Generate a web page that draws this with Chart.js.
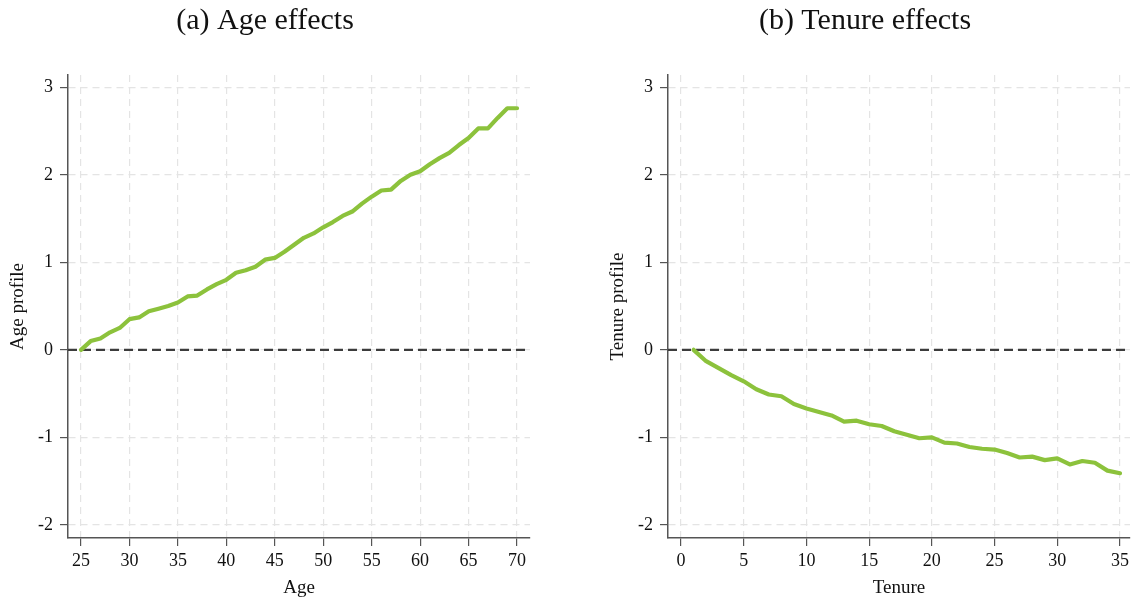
<!DOCTYPE html>
<html>
<head>
<meta charset="utf-8">
<script src="https://cdn.jsdelivr.net/npm/chart.js@4.4.1/dist/chart.umd.min.js"></script>
<style>
  html, body { margin: 0; padding: 0; background: #fff; }
  body { width: 1134px; height: 601px; position: relative; overflow: hidden; }
  .panel { position: absolute; top: 0; }
</style>
</head>
<body>
<div class="panel" style="left:0px;"><canvas id="chart-age" width="535" height="601"></canvas></div>
<div class="panel" style="left:600px;"><canvas id="chart-tenure" width="534" height="601"></canvas></div>
<script>
// valores
const idades = [25,26,27,28,29,30,31,32,33,34,35,36,37,38,39,40,41,42,43,44,45,46,47,48,49,50,
    51,52,53,54,55,56,57,58,59,60,61,62,63,64,65,66,67,68,69,70];
const perfilIdade = [0.00,0.10,0.13,0.20,0.25,0.35,0.37,0.44,0.47,0.50,0.54,0.61,0.62,0.69,0.75,0.80,
    0.88,0.91,0.95,1.03,1.05,1.12,1.20,1.28,1.33,1.40,1.46,1.53,1.58,1.67,1.75,1.82,1.83,1.93,2.00,2.04,
    2.12,2.19,2.25,2.34,2.42,2.53,2.53,2.65,2.76,2.76];

const anosEmpresa = [1,2,3,4,5,6,7,8,9,10,11,12,13,14,15,16,17,18,19,20,21,22,23,24,25,26,27,28,29,30,31,32,33,34,35];
const perfilTenure = [0.00,-0.13,-0.21,-0.29,-0.36,-0.45,-0.51,-0.53,-0.62,-0.67,-0.71,-0.75,-0.82,-0.81,
    -0.85,-0.87,-0.93,-0.97,-1.01,-1.00,-1.06,-1.07,-1.11,-1.13,-1.14,-1.18,-1.23,-1.22,-1.26,-1.24,
    -1.31,-1.27,-1.29,-1.38,-1.41];

const ticksY = [-2, -1, 0, 1, 2, 3];
const ticksIdade = [25,30,35,40,45,50,55,60,65,70];
const ticksTenure = [0,5,10,15,20,25,30,35];

const VERDE = '#8cc23c';
const FONTE = "'Liberation Serif', 'Times New Roman', serif";

function criarGrafico(id, titulo, xs, ys, ticksX, xMin, xMax, rotuloX, rotuloY, padDir) {
    const ctx = document.getElementById(id).getContext('2d');
    const pontos = xs.map((x, i) => ({ x: x, y: ys[i] }));

    return new Chart(ctx, {
        type: 'line',
        data: {
            datasets: [{
                data: pontos,
                borderColor: VERDE,
                borderWidth: 4.2,
                pointRadius: 0,
                tension: 0,
                borderJoinStyle: 'round',
                borderCapStyle: 'round',
                order: 0
            }, {
                // linha de referência em zero
                data: [{ x: xMin, y: 0 }, { x: xMax, y: 0 }],
                borderColor: '#3c3c3c',
                borderWidth: 2.2,
                borderDash: [9, 5],
                pointRadius: 0,
                order: 1
            }]
        },
        options: {
            responsive: false,
            animation: false,
            devicePixelRatio: 1,
            layout: { padding: { top: 0, right: padDir, bottom: 0, left: 0 } },
            plugins: {
                legend: { display: false },
                tooltip: { enabled: false },
                title: {
                    display: true,
                    text: titulo,
                    color: '#111',
                    font: { family: FONTE, size: 30, weight: 'normal', lineHeight: 1.2 },
                    padding: { top: 3, bottom: 36 }
                }
            },
            scales: {
                x: {
                    type: 'linear',
                    min: xMin,
                    max: xMax,
                    afterBuildTicks: (s) => { s.ticks = ticksX.map(v => ({ value: v })); },
                    afterFit: (s) => { s.height = 63; },
                    grid: {
                        color: '#e4e4e4',
                        lineWidth: 1.2,
                        tickColor: '#555',
                        tickLength: 8,
                        tickWidth: 1.2
                    },
                    border: { color: '#555', width: 1.5, dash: [7, 5] },
                    ticks: {
                        color: '#111',
                        padding: 4,
                        maxRotation: 0,
                        font: { family: FONTE, size: 18 }
                    },
                    title: {
                        display: true,
                        text: rotuloX,
                        color: '#111',
                        font: { family: FONTE, size: 19 },
                        padding: { top: 2, bottom: 2 }
                    }
                },
                y: {
                    type: 'linear',
                    min: -2.15,
                    max: 3.14,
                    afterBuildTicks: (s) => { s.ticks = ticksY.map(v => ({ value: v })); },
                    afterFit: (s) => { s.width = 68; },
                    grid: {
                        color: '#e4e4e4',
                        lineWidth: 1.2,
                        tickColor: '#555',
                        tickLength: 8,
                        tickWidth: 1.2
                    },
                    border: { color: '#555', width: 1.5, dash: [7, 5] },
                    ticks: {
                        color: '#111',
                        padding: 7,
                        font: { family: FONTE, size: 18 }
                    },
                    title: {
                        display: true,
                        text: rotuloY,
                        color: '#111',
                        font: { family: FONTE, size: 19 },
                        padding: { top: 7, bottom: 2 }
                    }
                }
            }
        }
    });
}

criarGrafico('chart-age', '(a) Age effects', idades, perfilIdade, ticksIdade, 23.66, 71.34, 'Age', 'Age profile', 5);
criarGrafico('chart-tenure', '(b) Tenure effects', anosEmpresa, perfilTenure, ticksTenure, -1.04, 35.8, 'Tenure', 'Tenure profile', 4);
</script>
</body>
</html>
